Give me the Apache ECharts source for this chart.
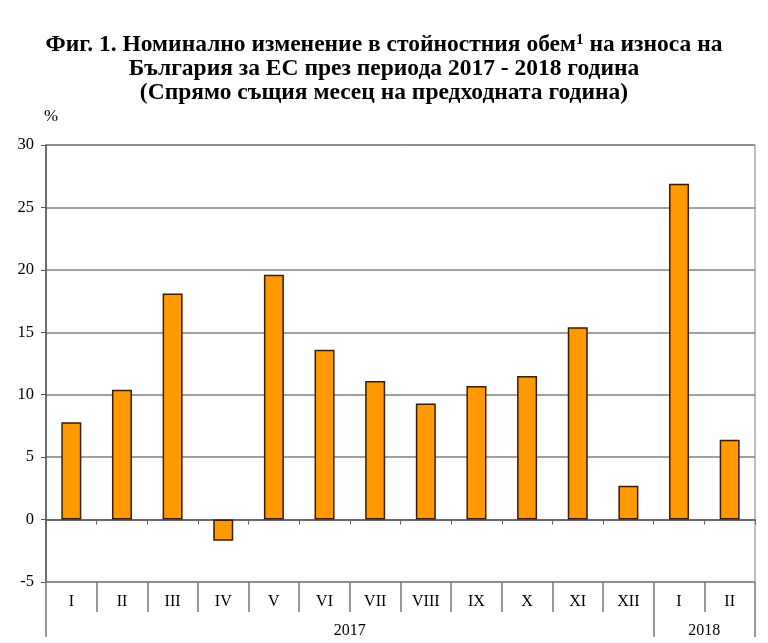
<!DOCTYPE html>
<html><head><meta charset="utf-8">
<script src="https://cdn.jsdelivr.net/npm/echarts@6/dist/echarts.min.js"></script>
<style>html,body{margin:0;padding:0;background:#fff}#c{width:768px;height:643px}</style>
</head><body><div id="c"></div>
<script>
const months = ['I','II','III','IV','V','VI','VII','VIII','IX','X','XI','XII','I','II'];
const values = [7.8, 10.4, 18.1, -1.7, 19.6, 13.6, 11.1, 9.3, 10.7, 11.5, 15.4, 2.7, 26.9, 6.4];
const years = ['2017', '2018'];
const yearBounds = [0, 12, 14];
const yearCenters = [6, 13];
const titleLines = ['Фиг. 1. Номинално изменение в стойностния обем', '1', ' на износа на', 'България за ЕС през периода 2017 - 2018 година', '(Спрямо същия месец на предходната година)'];

const font = 'Liberation Serif';
const chart = echarts.init(document.getElementById('c'));
chart.setOption({
  animation: false,
  textStyle: {fontFamily: font},
  title: {
    left: 'center', top: 28,
    text: '{t|' + titleLines[0] + '}{s|' + titleLines[1] + '}{t|' + titleLines[2] + '}\n{t|' + titleLines[3] + '}\n{t|' + titleLines[4] + '}',
    textStyle: {
      fontFamily: font, fontWeight: 'bold', fontSize: 24, lineHeight: 24, color: '#000', align: 'center',
      rich: {
        t: {fontFamily: font, fontWeight: 'bold', fontSize: 23.5, lineHeight: 24, color: '#000'},
        s: {fontFamily: font, fontWeight: 'bold', fontSize: 15, lineHeight: 24, verticalAlign: 'top', padding: [0,0,8,0], color: '#000'}
      }
    }
  },
  graphic: [{type: 'text', left: 44, top: 108, style: {text: '%', font: '17px "Liberation Serif"', fill: '#000'}}],
  grid: {left: 46, right: 13, top: 145, bottom: 61, show: true, borderColor: '#808080', borderWidth: 1},
  yAxis: {
    type: 'value', min: -5, max: 30, interval: 5,
    axisLine: {show: true, lineStyle: {color: '#555', width: 1.5}},
    axisTick: {show: true, length: 5, lineStyle: {color: '#555'}},
    axisLabel: {fontFamily: font, fontSize: 16.5, color: '#000', margin: 12},
    splitLine: {lineStyle: {color: '#808080', width: 1.5}}
  },
  xAxis: [
    {type: 'category', data: months, boundaryGap: true,
     axisLine: {onZero: true, lineStyle: {color: '#555', width: 1.5}},
     axisTick: {show: true, length: 5, lineStyle: {color: '#666'}},
     axisLabel: {show: false}},
    {type: 'category', data: months, boundaryGap: true, position: 'bottom',
     axisLine: {show: false, onZero: false},
     axisTick: {show: true, length: 30, lineStyle: {color: '#777', width: 1.5}},
     axisLabel: {fontFamily: font, fontSize: 16, color: '#000', margin: 12}},
    {type: 'value', min: 0, max: 14, position: 'bottom',
     axisLine: {show: false, onZero: false},
     splitLine: {show: false},
     axisTick: {show: true, length: 55, customValues: yearBounds, lineStyle: {color: '#777', width: 1.5}},
     axisLabel: {fontFamily: font, fontSize: 16, color: '#000', margin: 41, customValues: yearCenters,
       formatter: v => years[yearCenters.indexOf(v)] || ''}}
  ],
  series: [{
    type: 'bar', xAxisIndex: 0, data: values, barWidth: 20,
    itemStyle: {color: '#FF9900', borderColor: '#3a1c00', borderWidth: 1.5}
  }]
});
</script></body></html>
